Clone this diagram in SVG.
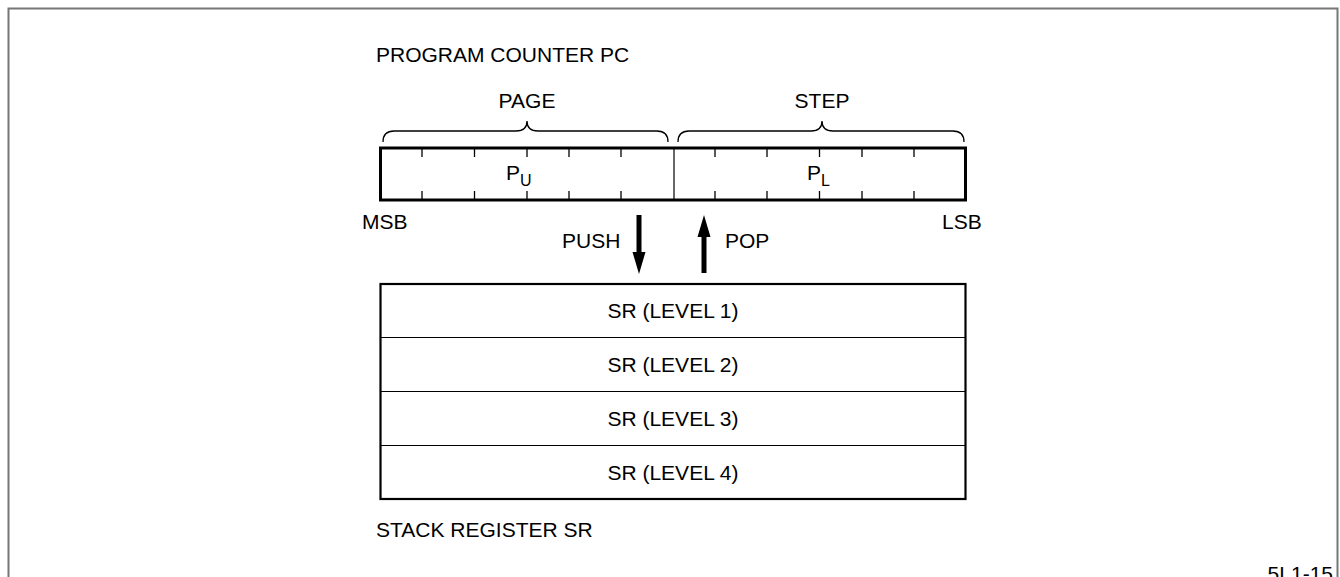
<svg xmlns="http://www.w3.org/2000/svg" width="1340" height="577" viewBox="0 0 1340 577">
<style>
text{font-family:"Liberation Sans",Arial,sans-serif;fill:#000;font-size:21px}
.mid{text-anchor:middle}
.tick{stroke:#000;stroke-width:1.3}
.brace{fill:none;stroke:#000;stroke-width:1.3}
.thin{stroke:#000;stroke-width:1.2}
</style>
<rect width="1340" height="577" fill="#fff"/>
<path d="M8.5,590 V8.5 H1337.5 V590" fill="none" stroke="#777" stroke-width="2"/>
<g id="pc-title"><text x="376" y="62">PROGRAM COUNTER PC</text></g>
<g id="page-brace">
<path class="brace" d="M383,142 Q383,131 394,131 H516 Q527,131 527,121 Q527,131 538,131 H657 Q668,131 668,142"/>
<text class="mid" x="527" y="108">PAGE</text>
</g>
<g id="step-brace">
<path class="brace" d="M678,142 Q678,131 689,131 H811 Q822,131 822,121 Q822,131 833,131 H953 Q964,131 964,142"/>
<text class="mid" x="822" y="108">STEP</text>
</g>
<g id="pc-register">
<rect x="380.5" y="148" width="585" height="52" fill="none" stroke="#000" stroke-width="3"/>
<line class="thin" x1="674" y1="148" x2="674" y2="200"/>
<g class="tick">
<line x1="422" y1="148" x2="422" y2="157"/><line x1="422" y1="191" x2="422" y2="200"/>
<line x1="474.5" y1="148" x2="474.5" y2="157"/><line x1="474.5" y1="191" x2="474.5" y2="200"/>
<line x1="527" y1="148" x2="527" y2="157"/><line x1="527" y1="191" x2="527" y2="200"/>
<line x1="569" y1="148" x2="569" y2="157"/><line x1="569" y1="191" x2="569" y2="200"/>
<line x1="621" y1="148" x2="621" y2="157"/><line x1="621" y1="191" x2="621" y2="200"/>
<line x1="715" y1="148" x2="715" y2="157"/><line x1="715" y1="191" x2="715" y2="200"/>
<line x1="767" y1="148" x2="767" y2="157"/><line x1="767" y1="191" x2="767" y2="200"/>
<line x1="819.5" y1="148" x2="819.5" y2="157"/><line x1="819.5" y1="191" x2="819.5" y2="200"/>
<line x1="862" y1="148" x2="862" y2="157"/><line x1="862" y1="191" x2="862" y2="200"/>
<line x1="914" y1="148" x2="914" y2="157"/><line x1="914" y1="191" x2="914" y2="200"/>
</g>
<text x="506" y="180">P<tspan font-size="16" dy="6">U</tspan></text>
<text x="807" y="180">P<tspan font-size="16" dy="6">L</tspan></text>
<text x="362" y="229">MSB</text>
<text x="942" y="229">LSB</text>
</g>
<g id="connectors">
<path d="M636.5,215 H641.5 V252 H645.5 L639,274 L632.5,252 H636.5 Z" fill="#000"/>
<path d="M701.5,273 H706.5 V237 H710.5 L704,215 L697.5,237 H701.5 Z" fill="#000"/>
<text x="562" y="248">PUSH</text>
<text x="725" y="248">POP</text>
</g>
<g id="stack">
<rect x="380.5" y="284" width="585" height="215" fill="none" stroke="#000" stroke-width="2.2"/>
<line class="thin" x1="380.5" y1="337.5" x2="965.5" y2="337.5"/>
<line class="thin" x1="380.5" y1="391.5" x2="965.5" y2="391.5"/>
<line class="thin" x1="380.5" y1="445.5" x2="965.5" y2="445.5"/>
<text class="mid" x="673" y="318">SR (LEVEL 1)</text>
<text class="mid" x="673" y="372">SR (LEVEL 2)</text>
<text class="mid" x="673" y="426">SR (LEVEL 3)</text>
<text class="mid" x="673" y="480">SR (LEVEL 4)</text>
</g>
<g id="stack-title"><text x="376" y="537">STACK REGISTER SR</text></g>
<text x="1333" y="581" font-size="15" text-anchor="end">5L1-15</text>
</svg>
